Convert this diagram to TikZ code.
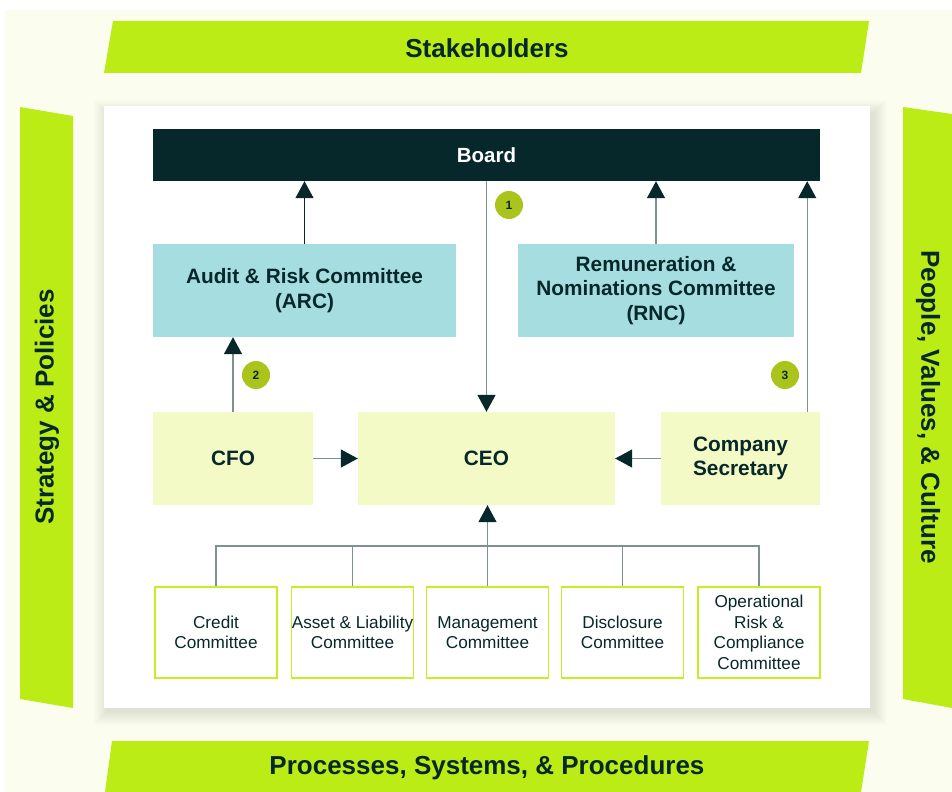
\documentclass[tikz,border=0pt]{standalone}
\usepackage{fontspec}
\setmainfont{Liberation Sans}
\usetikzlibrary{arrows.meta}
\definecolor{cream}{HTML}{FBFEEF}
\definecolor{lime}{HTML}{BBEC15}
\definecolor{darkteal}{HTML}{07282A}
\definecolor{teal}{HTML}{A6DDE0}
\definecolor{paley}{HTML}{F3FAC6}
\definecolor{cborder}{HTML}{C6EE24}
\definecolor{linegray}{HTML}{7E9090}
\definecolor{badgec}{HTML}{AAC41C}
\tikzset{
  banner/.style={font=\fontsize{26bp}{31bp}\selectfont\bfseries, text=darkteal},
  mainbox/.style={minimum height=93bp, inner sep=0pt, align=center, text=darkteal,
     font=\fontsize{20.8bp}{24.5bp}\selectfont\bfseries},
  tealbox/.style={mainbox, fill=teal},
  yelbox/.style={mainbox, fill=paley},
  combox/.style={draw=cborder, line width=1.6bp, fill=white, minimum width=122bp, minimum height=91bp,
     inner sep=0pt, align=center, text=darkteal, font=\fontsize{17.2bp}{20.5bp}\selectfont},
  badge/.style={circle, fill=badgec, minimum size=28bp, inner sep=0pt, text=darkteal,
     font=\fontsize{12bp}{14bp}\selectfont\bfseries},
  conn/.style={draw=linegray, line width=1.4bp},
  arr/.style={conn, -{Triangle[width=18bp,length=17bp,color=darkteal]}},
}
\begin{document}
\begin{tikzpicture}[x=1bp,y=-1bp]
\useasboundingbox (0,0) rectangle (952,792);
\fill[white] (0,0) rectangle (952,792);
\fill[cream] (5,10) rectangle (952,792);
% banners
\fill[lime] (113,21) -- (869,21) -- (861,73) -- (104,73) -- cycle;
\node[banner] (stake) at (487,48) {Stakeholders};
\fill[lime] (20,107) -- (73,116) -- (73,708) -- (20,699) -- cycle;
\node[banner, rotate=90] (strat) at (47,407) {Strategy \& Policies};
\fill[lime] (903,107) -- (952,114) -- (952,708) -- (903,699) -- cycle;
\node[banner, rotate=-90] (people) at (928,407) {People, Values, \& Culture};
\fill[lime] (112,741) -- (869,741) -- (861,792) -- (105,792) -- cycle;
\node[banner] (proc) at (487,768) {Processes, Systems, \& Procedures};
% panel with soft shadow
\foreach \i in {1,...,14} {
  \fill[black!60!olive, opacity=0.009] (104+4-\i,106+8-\i) rectangle (870+3+\i,708+3+\i);
}
\fill[white] (104,106) rectangle (870,708);
% nodes
\node[fill=darkteal, minimum width=667bp, minimum height=52bp, inner sep=0pt, text=white,
  font=\fontsize{20.5bp}{24bp}\selectfont\bfseries] (board) at (486.5,155) {Board};
\node[tealbox, minimum width=303bp] (arc) at (304.5,290.5) {Audit \& Risk Committee\\(ARC)};
\node[tealbox, minimum width=276bp] (rnc) at (656,290.5) {Remuneration \&\\Nominations Committee\\(RNC)};
\node[yelbox, minimum width=160bp] (cfo) at (233,458.5) {CFO};
\node[yelbox, minimum width=257bp] (ceo) at (486.5,458.5) {CEO};
\node[yelbox, minimum width=159bp] (cosec) at (740.5,458.5) {Company\\Secretary};
\node[combox] (c1) at (216,632.5) {Credit\\Committee};
\node[combox] (c2) at (352.5,632.5) {Asset \& Liability\\Committee};
\node[combox] (c3) at (487.5,632.5) {Management\\Committee};
\node[combox] (c4) at (622.5,632.5) {Disclosure\\Committee};
\node[combox] (c5) at (759,632.5) {Operational\\Risk \&\\Compliance\\Committee};
% connectors
\draw[arr, draw=darkteal] (arc.north) -- (arc.north |- board.south);
\draw[arr] (rnc.north) -- (rnc.north |- board.south);
\draw[arr] (board.south) -- (ceo.north);
\draw[arr] (cfo.north) -- (cfo.north |- arc.south);
\draw[arr] (cfo.east) -- (ceo.west);
\draw[arr] (cosec.west) -- (ceo.east);
\coordinate (csTop) at ([xshift=-13bp]cosec.north east);
\draw[arr] (csTop) -- (csTop |- board.south);
\coordinate (bus) at (487.5,546);
\draw[conn] (c1.north) -- (c1.north |- bus) -- (c5.north |- bus) -- (c5.north);
\draw[conn] (c2.north) -- (c2.north |- bus);
\draw[conn] (c4.north) -- (c4.north |- bus);
\draw[arr] (c3.north) -- (c3.north |- ceo.south);
% badges
\node[badge] (b1) at (509,205) {1};
\node[badge] (b2) at (256,375) {2};
\node[badge] (b3) at (785,375) {3};
\end{tikzpicture}
\end{document}
